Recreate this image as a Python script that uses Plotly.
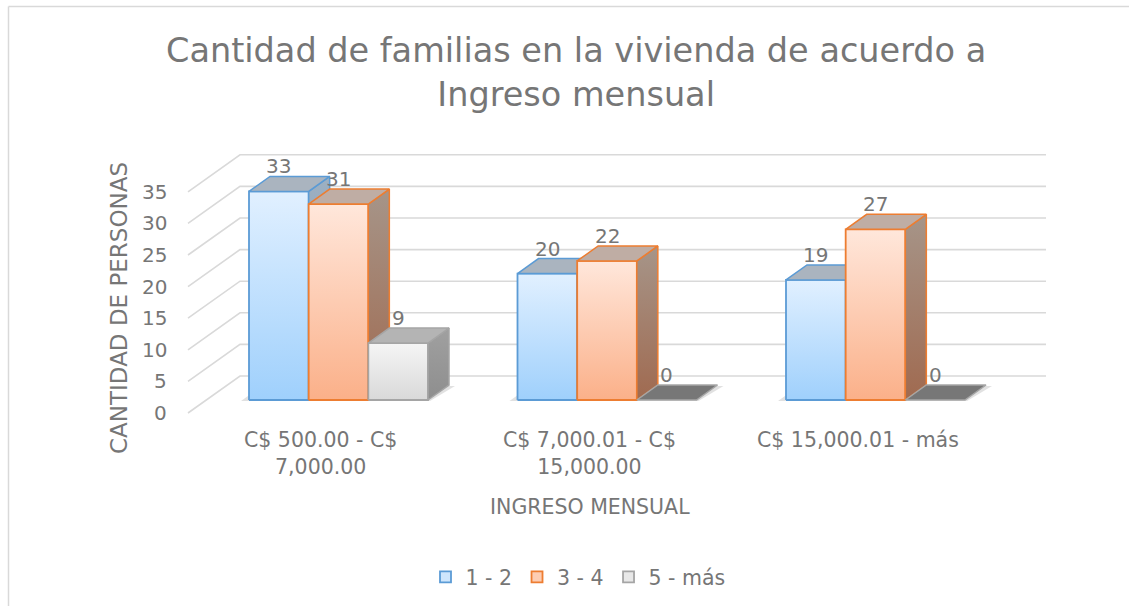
import plotly.graph_objects as go

# ---------------- data ----------------
categories = ["C$ 500.00 - C$<br>7,000.00", "C$ 7,000.01 - C$<br>15,000.00", "C$ 15,000.01 - más"]
series_names = ["1 - 2", "3 - 4", "5 - más"]
vals_1_2 = [33, 20, 19]
vals_3_4 = [31, 22, 27]
vals_5_mas = [9, 0, 0]
y_ticks = [0, 5, 10, 15, 20, 25, 30, 35]
title_text = "Cantidad de familias en la vivienda de acuerdo a<br>Ingreso mensual"
x_title = "INGRESO MENSUAL"
y_title = "CANTIDAD DE PERSONAS"

series_vals = [vals_1_2, vals_3_4, vals_5_mas]

# ---------------- geometry / style ----------------
W, H = 1129, 606
CAT_PX = 268.5      # pixels per category
UNIT_PX = 6.32      # pixels per value unit
ORX, ORY = 338.5, 400.0   # pixel of (category 0 centre, value 0) on bar front plane

def dx(px):
    return px / CAT_PX

def dy(px_up):
    return px_up / UNIT_PX

def py2paper(py):
    return 1 - py / H

def px2paper(px):
    return px / W

xr = [-ORX / CAT_PX, (W - ORX) / CAT_PX]
yr = [-(H - ORY) / UNIT_PX, ORY / UNIT_PX]

TXT = "#767676"
FONT = "DejaVu Sans"
GRID = "#D9D9D9"

# floor / walls
FL_X = dx(188 - ORX)      # front-left x of floor
FL_Y = -dy(13)            # front level offset (value units)
DEP_X, DEP_Y = dx(52), dy(37)   # full depth
BACK_RIGHT_X = dx(1046 - ORX)
LABEL_SHIFT_X = dx(-18)  # front plane shift relative to bars

BAR_W = (2 / 3) / 3
BD_X, BD_Y = dx(21), dy(15)     # bar depth

styles = [
    dict(front=("#9FD0FC", "#E1F0FF"), line="#5B9BD5", top="#AAB4BF", side=("#7F9AB3", "#9DB0C2"),
         leg="#CFE6FC"),
    dict(front=("#FBB089", "#FFE7DB"), line="#ED7D31", top="#BFADA4", side=("#A06A50", "#A69589"),
         leg="#FDCDB3"),
    dict(front=("#D9D9D9", "#F5F5F5"), line="#A5A5A5", top="#B4B4B4", side=("#8E8E8E", "#A0A0A0"),
         leg="#E8E8E8"),
]

fig = go.Figure()

# gridlines: left wall diagonals and back wall horizontals
gx, gy = [], []
for v in y_ticks:
    fy = v + FL_Y
    gx += [FL_X, FL_X + DEP_X, BACK_RIGHT_X, None]
    gy += [fy, fy + DEP_Y, fy + DEP_Y, None]
fig.add_trace(go.Scatter(x=gx, y=gy, mode="lines", line=dict(color=GRID, width=1.6),
                         hoverinfo="skip", showlegend=False))

# soft floor shadows
for i in range(len(categories)):
    x0 = i - 1 / 3
    x1 = i + 1 / 3
    sx = [x0 - dx(8), x1 + dx(2), x1 + BD_X + dx(6), x0 + BD_X - dx(8), x0 - dx(8)]
    sy = [-dy(1), -dy(1), BD_Y - dy(1), BD_Y - dy(1), -dy(1)]
    fig.add_trace(go.Scatter(x=sx, y=sy, mode="lines", fill="toself", line=dict(width=0),
                             fillcolor="rgba(120,120,120,0.22)", hoverinfo="skip", showlegend=False))

annotations = []

for i in range(len(categories)):
    for k, vals in enumerate(series_vals):
        v = vals[i]
        st = styles[k]
        x0 = i - 1 / 3 + k * BAR_W
        x1 = x0 + BAR_W
        if v > 0:
            # front face
            fig.add_trace(go.Scatter(
                x=[x0, x1, x1, x0, x0], y=[0, 0, v, v, 0], mode="lines", fill="toself",
                fillgradient=dict(type="vertical", colorscale=[[0, st["front"][0]], [1, st["front"][1]]]),
                line=dict(color=st["line"], width=1.8), hoverinfo="skip", showlegend=False))
            # side face
            fig.add_trace(go.Scatter(
                x=[x1, x1 + BD_X, x1 + BD_X, x1, x1], y=[0, BD_Y, v + BD_Y, v, 0], mode="lines",
                fill="toself",
                fillgradient=dict(type="vertical", colorscale=[[0, st["side"][0]], [1, st["side"][1]]]),
                line=dict(color=st["line"], width=1.5), hoverinfo="skip", showlegend=False))
            top_fill = st["top"]
            top_line = st["line"]
        else:
            top_fill = "#777777"
            top_line = "#A6A6A6"
        # top face
        fig.add_trace(go.Scatter(
            x=[x0, x1, x1 + BD_X, x0 + BD_X, x0], y=[v, v, v + BD_Y, v + BD_Y, v], mode="lines",
            fill="toself", fillcolor=top_fill, line=dict(color=top_line, width=1.5),
            hoverinfo="skip", showlegend=False))
        annotations.append(dict(x=(x0 + x1) / 2, y=v, xref="x", yref="y", text=str(v), showarrow=False,
                                xanchor="center", yanchor="middle", yshift=25,
                                font=dict(family=FONT, size=20, color=TXT)))

# legend entries
for k, name in enumerate(series_names):
    st = styles[k]
    fig.add_trace(go.Scatter(x=[None], y=[None], mode="markers", name=name,
                             marker=dict(symbol="square", size=11, color=st["leg"],
                                         line=dict(color=st["line"], width=1.8))))

# y tick labels on the front-left edge
for v in y_ticks:
    annotations.append(dict(x=FL_X, y=v + FL_Y, xref="x", yref="y", text=str(v), showarrow=False,
                            xanchor="right", yanchor="middle", xshift=-19,
                            font=dict(family=FONT, size=20, color=TXT)))

# category labels
for i, c in enumerate(categories):
    annotations.append(dict(x=i + LABEL_SHIFT_X, y=py2paper(426), xref="x", yref="paper", text=c,
                            showarrow=False, xanchor="center", yanchor="top", align="center",
                            font=dict(family=FONT, size=20.5, color=TXT)))

# axis titles
annotations.append(dict(x=px2paper(590), y=py2paper(507), xref="paper", yref="paper", text=x_title,
                        showarrow=False, xanchor="center", yanchor="middle",
                        font=dict(family=FONT, size=20.5, color=TXT)))
annotations.append(dict(x=px2paper(119), y=py2paper(308), xref="paper", yref="paper", text=y_title,
                        showarrow=False, textangle=-90, xanchor="center", yanchor="middle",
                        font=dict(family=FONT, size=23, color=TXT)))
# chart title
annotations.append(dict(x=px2paper(576), y=py2paper(72), xref="paper", yref="paper", text=title_text,
                        showarrow=False, xanchor="center", yanchor="middle",
                        font=dict(family=FONT, size=33.5, color=TXT)))

shapes = [
    dict(type="line", xref="paper", yref="paper", x0=px2paper(8.5), x1=1.0, y0=py2paper(6.5),
         y1=py2paper(6.5), line=dict(color=GRID, width=1.5)),
    dict(type="line", xref="paper", yref="paper", x0=px2paper(8.5), x1=px2paper(8.5), y0=py2paper(6.5),
         y1=0.0, line=dict(color=GRID, width=1.5)),
]

fig.update_layout(
    width=W, height=H, autosize=False,
    margin=dict(l=0, r=0, t=0, b=0),
    paper_bgcolor="white", plot_bgcolor="white",
    xaxis=dict(range=xr, visible=False, domain=[0, 1], fixedrange=True),
    yaxis=dict(range=yr, visible=False, domain=[0, 1], fixedrange=True),
    annotations=annotations, shapes=shapes,
    showlegend=True,
    legend=dict(orientation="h", x=px2paper(578), xanchor="center", y=py2paper(577), yanchor="middle",
                font=dict(family=FONT, size=20.5, color=TXT), itemwidth=30, bgcolor="rgba(0,0,0,0)",
                itemclick=False, itemdoubleclick=False),
    hovermode=False,
)

fig.write_html("out.html", config={"displayModeBar": False},
               post_script="document.body.style.margin='0';document.body.style.overflow='hidden';")
